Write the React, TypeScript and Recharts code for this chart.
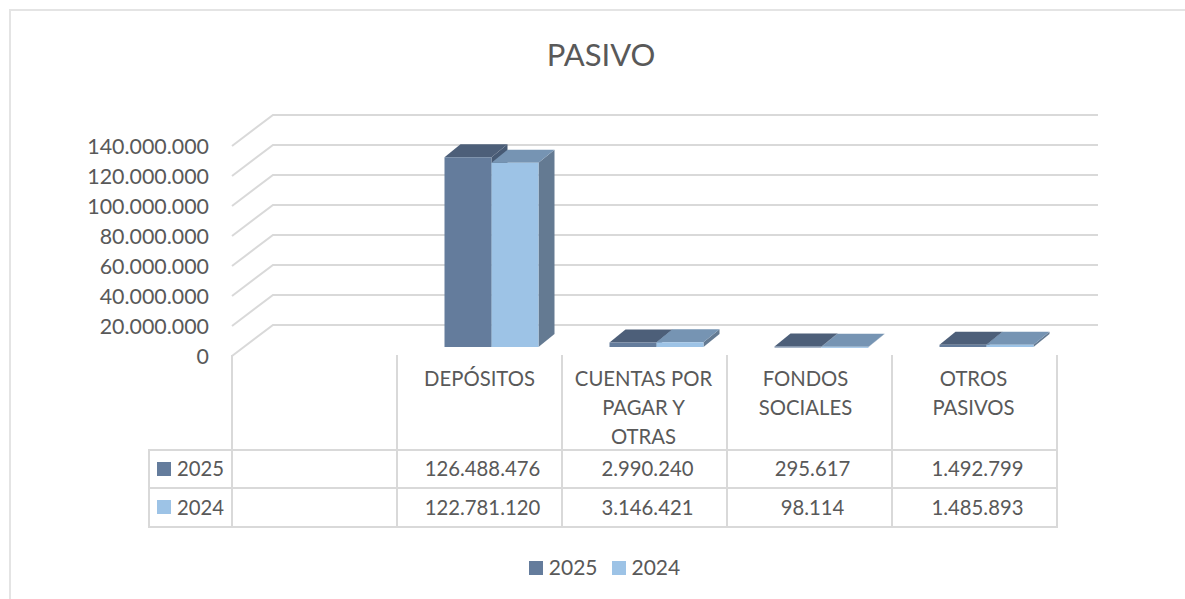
import { Bar, BarChart, CartesianGrid, Legend, XAxis, YAxis } from "recharts";

const categories = ["", "DEPÓSITOS", "CUENTAS POR PAGAR Y OTRAS", "FONDOS SOCIALES", "OTROS PASIVOS"];
const categoryLines = [[], ["DEPÓSITOS"], ["CUENTAS POR", "PAGAR Y", "OTRAS"], ["FONDOS", "SOCIALES"], ["OTROS", "PASIVOS"]];
const values2025 = [null, 126488476, 2990240, 295617, 1492799];
const values2024 = [null, 122781120, 3146421, 98114, 1485893];
const labels2025 = ["", "126.488.476", "2.990.240", "295.617", "1.492.799"];
const labels2024 = ["", "122.781.120", "3.146.421", "98.114", "1.485.893"];
const yTicks = [0, 20000000, 40000000, 60000000, 80000000, 100000000, 120000000, 140000000];

const data = categories.map((name, i) => ({
  name,
  y2025: values2025[i],
  y2024: values2024[i],
}));

const FONT = "Lato, 'Open Sans', sans-serif";
const TEXT = "#595959";
const LINE = "#d9d9d9";
const DARK = { front: "#647c9c", top: "#4d5f79", side: "#475a74" };
const LIGHT = { front: "#9dc3e6", top: "#7694b3", side: "#647a92" };

// wall depth of the fake 3D floor
const DEPTH_X = 41;
const DEPTH_Y = 31;

// header labels sit slightly off centre in the table
const labelShift = [0, 0, -1, -4, -1];

function formatTick(v: number) {
  return v.toLocaleString("de-DE");
}

function GridLine({ x1, x2, y1 }: any) {
  const pts = `${x1},${y1} ${x1 + DEPTH_X},${y1 - DEPTH_Y} ${x2 + DEPTH_X},${y1 - DEPTH_Y}`;
  return <polyline points={pts} fill="none" stroke={LINE} strokeWidth={2} />;
}

function Box3D({ x, y, width, height, colors }: any) {
  if (width === undefined || height === undefined) return null;
  // bars stand a little behind the front edge of the floor
  const l = x + 11.5;
  const t = y - 9;
  const r = l + width;
  const b = t + height;
  const dx = 16;
  const dy = 13;
  return (
    <g>
      <polygon points={`${r},${t} ${r + dx},${t - dy} ${r + dx},${b - dy} ${r},${b}`} fill={colors.side} />
      <polygon points={`${l},${t} ${l + dx},${t - dy} ${r + dx},${t - dy} ${r},${t}`} fill={colors.top} />
      <rect x={l} y={t} width={width} height={Math.max(height, 1)} fill={colors.front} />
    </g>
  );
}

function TableTick({ x, payload, index }: any) {
  const cell = 165;
  const left = x - cell / 2;
  const right = left + cell;
  const top = 355;
  const row1 = 450;
  const row2 = 488;
  const row3 = 527;
  const lines = categoryLines[index] || [];
  const common = { fontFamily: FONT, fontSize: 20.3, fill: TEXT };
  return (
    <g key={payload.value}>
      <line x1={right} x2={right} y1={top} y2={row3} stroke={LINE} strokeWidth={2} />
      {lines.map((ln: string, i: number) => (
        <text key={ln} x={x + labelShift[index]} y={386 + i * 29} textAnchor="middle" {...common}>
          {ln}
        </text>
      ))}
      <text x={x + 3} y={476} textAnchor="middle" {...common}>
        {labels2025[index]}
      </text>
      <text x={x + 3} y={515} textAnchor="middle" {...common}>
        {labels2024[index]}
      </text>
      {index === 0 && (
        <g>
          <line x1={left} x2={left} y1={top} y2={row3} stroke={LINE} strokeWidth={2} />
          <line x1={149} x2={149} y1={row1} y2={row3} stroke={LINE} strokeWidth={2} />
          {[row1, row2, row3].map((ry) => (
            <line key={ry} x1={148} x2={1058} y1={ry} y2={ry} stroke={LINE} strokeWidth={2} />
          ))}
          <rect x={157} y={462} width={14} height={14} fill={DARK.front} />
          <text x={177} y={476} {...common}>2025</text>
          <rect x={157} y={500} width={14} height={14} fill={LIGHT.front} />
          <text x={177} y={515} {...common}>2024</text>
        </g>
      )}
    </g>
  );
}

export default function App() {
  return (
    <div style={{ position: "absolute", left: 0, top: 0, width: 1185, height: 599, overflow: "hidden", background: "#fff" }}>
      {/* frame is cut off on the right and bottom in the source */}
      <div style={{ position: "absolute", left: 9, top: 9, width: 1200, height: 620, border: "2px solid #e4e4e4" }} />
      <div style={{ position: "absolute", left: 0, width: 1202, top: 35, textAlign: "center", fontFamily: FONT, fontSize: 31, color: TEXT }}>
        PASIVO
      </div>
      <BarChart
        width={1185}
        height={599}
        data={data}
        barSize={47}
        barGap={0}
        barCategoryGap={0}
        margin={{ top: 146, right: 128, left: 0, bottom: 23 }}
        style={{ position: "absolute", left: 0, top: 0 }}
      >
        <CartesianGrid vertical={false} horizontal={(props: any) => <GridLine {...props} />} />
        <XAxis
          dataKey="name"
          interval={0}
          height={195}
          axisLine={false}
          tickLine={false}
          tick={(props: any) => <TableTick {...props} />}
        />
        <YAxis
          width={232}
          domain={[0, 140000000]}
          ticks={yTicks}
          interval={0}
          axisLine={false}
          tickLine={false}
          tickMargin={17}
          tickFormatter={formatTick}
          tick={{ fontFamily: FONT, fontSize: 21.4, fill: TEXT }}
        />
        <Legend
          verticalAlign="bottom"
          iconType="square"
          iconSize={14}
          itemSorter={(item: any) => -Number(item.value)}
          wrapperStyle={{ left: 0, width: 1223, bottom: 23 }}
          formatter={(v: string) => (
            <span style={{ color: TEXT, fontFamily: FONT, fontSize: 21, marginLeft: 2, marginRight: 4, position: "relative", top: 3 }}>{v}</span>
          )}
        />
        <Bar dataKey="y2025" name="2025" fill={DARK.front} isAnimationActive={false} shape={(p: any) => <Box3D {...p} colors={DARK} />} />
        <Bar dataKey="y2024" name="2024" fill={LIGHT.front} isAnimationActive={false} shape={(p: any) => <Box3D {...p} colors={LIGHT} />} />
      </BarChart>
    </div>
  );
}
